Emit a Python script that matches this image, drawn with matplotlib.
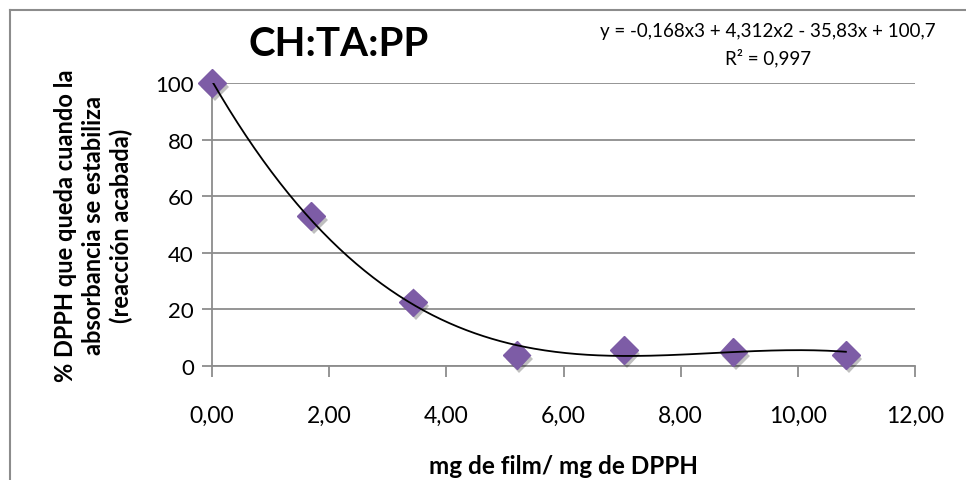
import numpy as np
import matplotlib
matplotlib.use("Agg")
import matplotlib.pyplot as plt
import matplotlib.patheffects as pe
from matplotlib.lines import Line2D

plt.rcParams.update({
    "font.family": ["Lato", "DejaVu Sans"],
})

# ------------------ DATA ------------------ #
mg_ratio = [0.00, 1.69, 3.43, 5.20, 7.03, 8.90, 10.82]
dpph_left = [100.0, 53.0, 22.5, 3.9, 5.6, 4.9, 3.9]
# cubic trendline coefficients as printed on the chart
trend_coef = [-0.168, 4.312, -35.83, 100.7]
x_ticks = [0, 2, 4, 6, 8, 10, 12]
x_tick_labels = ["0,00", "2,00", "4,00", "6,00", "8,00", "10,00", "12,00"]
y_ticks = [0, 20, 40, 60, 80, 100]

GRID = "#8c8c8c"
PURPLE = "#7d5ca6"

fig = plt.figure(figsize=(9.66, 4.81), dpi=100)
ax = fig.add_axes([0.2195, 0.237, 0.9472 - 0.2195, 0.8254 - 0.237])

# chart frame (top and left edges visible)
fig.add_artist(Line2D([10 / 966, 10 / 966], [0, 1 - 11 / 481], transform=fig.transFigure,
                      color=GRID, lw=1.5))
fig.add_artist(Line2D([10 / 966, 1], [1 - 11 / 481, 1 - 11 / 481], transform=fig.transFigure,
                      color=GRID, lw=1.5))

ax.set_xlim(0, 12)
ax.set_ylim(0, 100)
ax.set_xticks(x_ticks)
ax.set_xticklabels(x_tick_labels)
ax.set_yticks(y_ticks)
ax.yaxis.grid(True, color=GRID, lw=1.3)
ax.set_axisbelow(True)

for side in ["top", "right"]:
    ax.spines[side].set_visible(False)
for side in ["left", "bottom"]:
    ax.spines[side].set_color(GRID)
    ax.spines[side].set_linewidth(1.3)

ax.tick_params(axis="x", direction="out", length=8, width=1.3, color=GRID,
               labelsize=16.5, pad=20)
ax.tick_params(axis="y", direction="out", length=7, width=1.3, color=GRID,
               labelsize=16, pad=6)

# trendline
xs = np.linspace(mg_ratio[0], mg_ratio[-1], 300)
ax.plot(xs, np.polyval(trend_coef, xs), color="black", lw=1.3, zorder=4)

# data points with soft shadow
ax.plot(mg_ratio, dpph_left, linestyle="none", marker="D", markersize=14,
        color=PURPLE, markeredgecolor=PURPLE, clip_on=False, zorder=3,
        path_effects=[pe.SimplePatchShadow(offset=(2, -3), shadow_rgbFace="black", alpha=0.25),
                      pe.Normal()])

ax.set_xlabel("mg de film/ mg de DPPH", fontsize=17.5, fontweight="bold", labelpad=20)
ax.set_ylabel("% DPPH que queda cuando la\nabsorbancia se estabiliza\n(reacción acabada)",
              fontsize=17, fontweight="bold", labelpad=16, linespacing=1.25)

fig.text(339 / 966, 1 - 45 / 481, "CH:TA:PP", fontsize=29, fontweight="bold",
         ha="center", va="center")
fig.text(768 / 966, 1 - 32 / 481, "y = -0,168x3 + 4,312x2 - 35,83x + 100,7",
         fontsize=13.5, ha="center", va="center")
fig.text(768 / 966, 1 - 58 / 481, "R² = 0,997", fontsize=13.5, ha="center", va="center")

fig.savefig("out.png", dpi=100)
